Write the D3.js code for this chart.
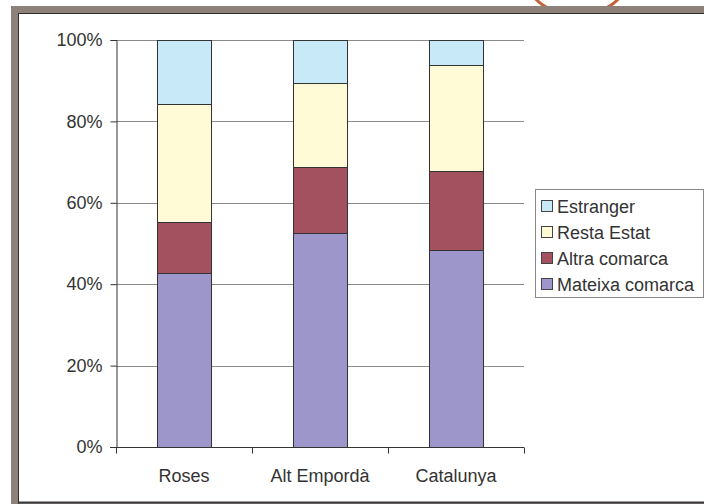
<!DOCTYPE html>
<html>
<head>
<meta charset="utf-8">
<script src="https://cdn.jsdelivr.net/npm/d3@7"></script>
<style>
html,body{margin:0;padding:0;background:#fff;}
svg{display:block;}
text{font-family:"Liberation Sans",Arial,sans-serif;}
</style>
</head>
<body>
<svg id="chart" width="704" height="504"></svg>
<script>
const categories = ["Roses", "Alt Empordà", "Catalunya"];
const seriesNames = ["Mateixa comarca", "Altra comarca", "Resta Estat", "Estranger"];
const mateixaComarca = [42.7, 52.6, 48.4];
const altraComarca = [12.5, 16.2, 19.4];
const restaEstat = [29.0, 20.6, 26.1];
const estranger = [15.8, 10.6, 6.1];
const yTicks = [0, 20, 40, 60, 80, 100];
const colors = ["#9C96CA", "#A3505F", "#FFFBD6", "#C7E9F8"];

const rows = categories.map((c, i) => ({
  cat: c,
  "Mateixa comarca": mateixaComarca[i],
  "Altra comarca": altraComarca[i],
  "Resta Estat": restaEstat[i],
  "Estranger": estranger[i]
}));

const svg = d3.select("#chart");
const FS = 18;

// decorative frame
svg.append("ellipse").attr("cx", 577).attr("cy", -20).attr("rx", 49).attr("ry", 35)
  .attr("fill", "none").attr("stroke", "#C2633A").attr("stroke-width", 3);
svg.append("rect").attr("x", 11).attr("y", 6).attr("width", 693).attr("height", 498).attr("fill", "#8D817C");
svg.append("rect").attr("x", 19).attr("y", 14).attr("width", 685).attr("height", 488).attr("fill", "#fff");
svg.append("line").attr("x1", 18).attr("x2", 704).attr("y1", 13.5).attr("y2", 13.5).attr("stroke", "#2b2b2b").attr("stroke-width", 1);
svg.append("line").attr("x1", 18.5).attr("x2", 18.5).attr("y1", 13).attr("y2", 504).attr("stroke", "#2b2b2b").attr("stroke-width", 1);
svg.append("line").attr("x1", 18).attr("x2", 704).attr("y1", 502.5).attr("y2", 502.5).attr("stroke", "#3a3a3a").attr("stroke-width", 2);

const x = d3.scaleBand().domain(categories).range([116, 524]).padding(0);
const y = d3.scaleLinear().domain([0, 100]).range([447, 40]);

// gridlines
svg.append("g").selectAll("line").data(yTicks.filter(t => t > 0)).join("line")
  .attr("x1", 116).attr("x2", 524)
  .attr("y1", d => Math.round(y(d)) + 0.5).attr("y2", d => Math.round(y(d)) + 0.5)
  .attr("stroke", "#8a8a8a").attr("stroke-width", 1);

// bars
const stack = d3.stack().keys(seriesNames);
const layers = stack(rows);
const bw = x.bandwidth() * 0.4;
svg.append("g").selectAll("g").data(layers).join("g")
  .attr("fill", (d, i) => colors[i])
  .selectAll("rect").data(d => d).join("rect")
  .attr("x", d => Math.round(x(d.data.cat) + (x.bandwidth() - bw) / 2) + 0.5)
  .attr("y", d => Math.round(y(d[1])) + 0.5)
  .attr("width", Math.round(bw))
  .attr("height", d => Math.round(y(d[0])) - Math.round(y(d[1])))
  .attr("stroke", "#333").attr("stroke-width", 1);

// y axis
const yAxis = d3.axisLeft(y).tickValues(yTicks).tickFormat(d => d + "%").tickSize(6).tickPadding(8);
const gy = svg.append("g").attr("transform", "translate(116.5,0)").call(yAxis);
gy.select(".domain").attr("stroke", "#333");
gy.selectAll(".tick line").attr("stroke", "#333");
gy.selectAll("text").attr("font-size", FS).attr("fill", "#333").attr("font-family", "Liberation Sans, Arial, sans-serif");

// x axis
const gx = svg.append("g").attr("transform", "translate(0,447.5)");
gx.append("line").attr("x1", 110).attr("x2", 524).attr("y1", 0).attr("y2", 0).attr("stroke", "#333");
const bounds = categories.map(c => x(c)).concat([x.range()[1]]);
gx.selectAll("line.tk").data(bounds).join("line").attr("class", "tk")
  .attr("x1", d => Math.round(d) + 0.5).attr("x2", d => Math.round(d) + 0.5)
  .attr("y1", 0).attr("y2", 6).attr("stroke", "#333");
gx.selectAll("text").data(categories).join("text")
  .attr("x", d => x(d) + x.bandwidth() / 2).attr("y", 34)
  .attr("text-anchor", "middle").attr("font-size", FS).attr("fill", "#333")
  .text(d => d);

// legend
const lg = svg.append("g");
lg.append("rect").attr("x", 535.5).attr("y", 189.5).attr("width", 168).attr("height", 108)
  .attr("fill", "#fff").attr("stroke", "#888").attr("stroke-width", 1);
const legendOrder = seriesNames.slice().reverse();
const legendColors = colors.slice().reverse();
const li = lg.selectAll("g").data(legendOrder).join("g")
  .attr("transform", (d, i) => `translate(0,${206 + i * 26})`);
li.append("rect").attr("x", 541.5).attr("y", -5.5).attr("width", 11).attr("height", 11)
  .attr("fill", (d, i) => legendColors[i]).attr("stroke", "#444").attr("stroke-width", 1);
li.append("text").attr("x", 557).attr("y", 6.5).attr("font-size", FS).attr("fill", "#333").text(d => d);
</script>
</body>
</html>
